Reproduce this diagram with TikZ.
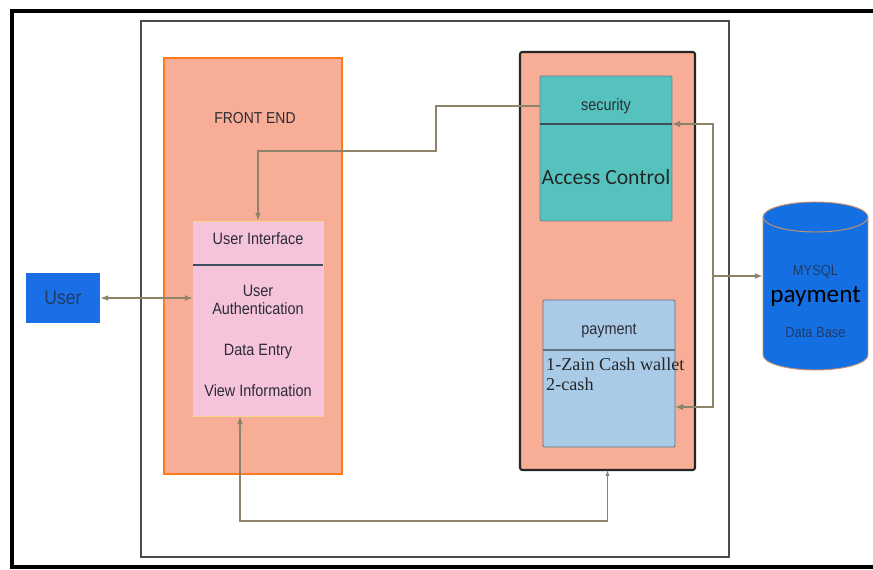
\documentclass[tikz,border=0pt]{standalone}
\usepackage{fontspec}
\setmainfont{Liberation Sans}
\newfontfamily\narrowsans[FakeStretch=0.88]{Liberation Sans}
\newfontfamily\calibri{Carlito}
\newfontfamily\cambria{Liberation Serif}
\usepackage{xcolor}
\usetikzlibrary{arrows.meta,fit}

\definecolor{salmon}{HTML}{F7AD96}
\definecolor{fedge}{HTML}{FF7A1A}
\definecolor{uipink}{HTML}{F5C3DA}
\definecolor{uiedge}{HTML}{F2D884}
\definecolor{secteal}{HTML}{55C2BD}
\definecolor{paylight}{HTML}{AACBE8}
\definecolor{userblue}{HTML}{1A6FE6}
\definecolor{dbblue}{HTML}{1470E2}
\definecolor{dbedge}{HTML}{C8926A}
\definecolor{connc}{HTML}{8C836A}
\definecolor{splitc}{HTML}{3E4E5E}
\definecolor{labelc}{HTML}{2C2C36}
\definecolor{dbtext}{HTML}{213A66}

\tikzset{
  panel/.style={inner sep=0pt, outer sep=0pt},
  conn/.style={draw=connc, line width=1.4pt, arrows={-Latex[length=7pt,width=5pt]}},
  fat conn/.style={conn, line width=2.4pt},
  lbl/.style={text=labelc, font=\narrowsans\fontsize{14}{16}\selectfont, align=center}
}

\begin{document}
\begin{tikzpicture}[x=0.03cm, y=-0.03cm]
  \useasboundingbox (0,0) rectangle (873,570);
  % frames
  \draw[line width=2.6pt] (873,11) -- (12,11) -- (12,567) -- (873,567);
  \draw[line width=2pt, color=black!70] (141,21) rectangle (729,557);

  % front end
  \node[panel, fit={(164,58) (342,474)}, fill=salmon, draw=fedge, line width=1.8pt] (fe) {};
  \node[lbl, font=\narrowsans\fontsize{13.5}{15}\selectfont] (felbl) at (255,118) {FRONT END};
  \node[panel, fit={(193,221) (323,416)}, fill=uipink, draw=uiedge, line width=0.8pt] (ui) {};
  \draw[splitc, line width=1pt] (ui.west |- 0,265) -- (ui.east |- 0,265);
  \node[lbl] (uitop) at (258,239) {User Interface};
  \node[lbl] (auth) at (258,300) {User\\[-1pt]Authentication};
  \node[lbl] (entry) at (258,352) {Data Entry};
  \node[lbl] (view) at (258,391) {View Information};

  % back end
  \node[panel, fit={(520,52) (695,470)}, fill=salmon, draw=black!85, line width=1.8pt, rounded corners=2pt] (be) {};
  \node[panel, fit={(540,76) (672,221)}, fill=secteal, draw=splitc!70, line width=0.8pt, rounded corners=1pt] (sec) {};
  \draw[splitc, line width=2.2pt] (sec.west |- 0,124) -- (sec.east |- 0,124);
  \node[lbl] (seclbl) at (606,106) {security};
  \node[text=black!85, font=\calibri\fontsize{18.5}{20}\selectfont] (acc) at (606,177) {Access Control};
  \node[panel, fit={(543,300) (675,447)}, fill=paylight, draw=splitc!80, line width=0.8pt, rounded corners=1pt] (pay) {};
  \draw[splitc!80, line width=1pt] (pay.west |- 0,350) -- (pay.east |- 0,350);
  \node[lbl] (paylbl) at (609,331) {payment};
  \node[anchor=north west, inner sep=0pt, align=left, text=black!85,
        font=\cambria\fontsize{15.5}{16.5}\selectfont] (paylist) at (546,358) {1-Zain Cash wallet\\2-cash};

  % user
  \node[panel, fit={(26,273) (100,323)}, fill=userblue] (user) {};
  \node[text=dbtext, font=\narrowsans\fontsize{17}{19}\selectfont] (userlbl) at (user.center) {User};

  % database
  \fill[dbblue] (763,217) rectangle (868,355);
  \fill[dbblue] (815.5,355) ellipse [x radius=52.5, y radius=15];
  \draw[dbedge, line width=0.8pt] (763,217) -- (763,355) arc[start angle=180, end angle=0, x radius=52.5, y radius=15] -- (868,217);
  \filldraw[fill=dbblue, draw=dbedge, line width=0.8pt] (815.5,217) ellipse [x radius=52.5, y radius=15];
  \coordinate (db) at (763,276);
  \node[text=dbtext, font=\narrowsans\fontsize{12.5}{14}\selectfont] (dbtop) at (815.5,272) {MYSQL};
  \node[text=black, font=\calibri\fontsize{21.5}{23}\selectfont] (dbname) at (815.5,297) {payment};
  \node[text=dbtext, font=\narrowsans\fontsize{12.5}{14}\selectfont] (dbbot) at (815.5,333) {Data Base};

  % connectors
  \draw[conn] (sec.west |- 0,106) -- (436,106) -- (436,151) -- (ui.north |- 0,151) -- (ui.north);
  \draw[conn, arrows={Latex[length=7pt,width=5pt]-Latex[length=7pt,width=5pt]}] (user.east) -- (ui.west |- user.east);
  \draw[conn, arrows={Latex[length=7pt,width=5pt]-Latex[length=5pt,width=3.5pt]}] (ui.south -| 240,0) -- (240,521) -- (607.5,521) -- (be.south);
  \coordinate (tap) at (713,276);
  \draw[fat conn, arrows={Latex[length=7pt,width=6pt]-Latex[length=7pt,width=6pt]}] (sec.east |- 0,124) -- (713,124) -- (713,407) -- (pay.east |- 0,407);
  \draw[fat conn] (tap) -- (db);
\end{tikzpicture}
\end{document}
